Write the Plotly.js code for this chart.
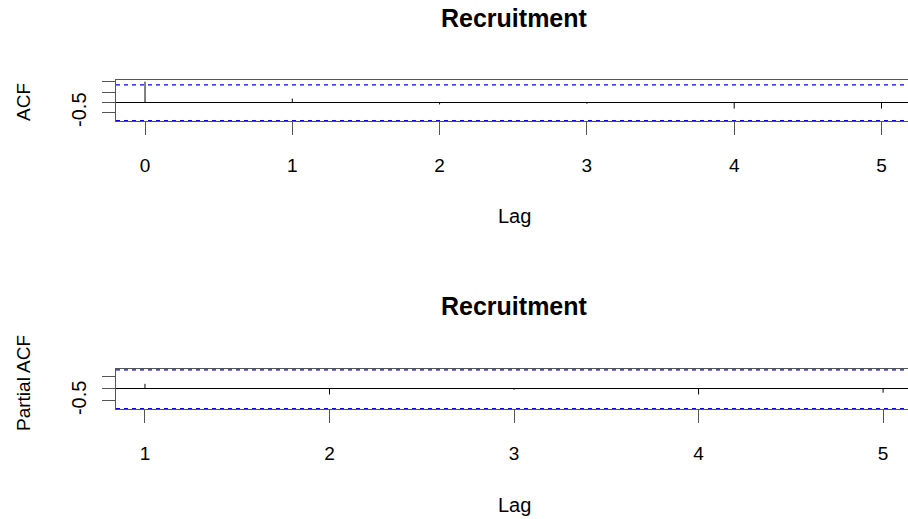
<!DOCTYPE html>
<html>
<head>
<meta charset="utf-8">
<script src="https://cdn.plot.ly/plotly-3.0.1.min.js"></script>
<style>html,body{margin:0;padding:0;background:#fff;}#plot{width:908px;height:519px;}</style>
</head>
<body>
<div id="plot"></div>
<script>
// ---- data ----
var acfLags = [0, 1, 2, 3, 4, 5];
var acfValues = [1.0, 0.18, -0.1, -0.07, -0.3, -0.3];
var acfConfUpper = 0.84;
var acfConfLower = -0.885;

var pacfLags = [1, 2, 3, 4, 5];
var pacfValues = [0.19, -0.24, -0.05, -0.24, -0.17];
var pacfConfUpper = 0.755;
var pacfConfLower = -0.815;

var acfTicks = [0, 1, 2, 3, 4, 5];
var pacfTicks = [1, 2, 3, 4, 5];
var yTickVals = [-0.5, 0, 0.5, 1];
var yTickText = ["-0.5", "", "", ""];

var titleText = "Recruitment";
var xTitle = "Lag";
var acfYTitle = "ACF";
var pacfYTitle = "Partial ACF";

function spikes(lags, vals) {
  var x = [], y = [];
  for (var i = 0; i < lags.length; i++) {
    x.push(lags[i], lags[i], null);
    y.push(0, vals[i], null);
  }
  return {x: x, y: y};
}

var s1 = spikes(acfLags, acfValues);
var s2 = spikes(pacfLags, pacfValues);

var FONT = "Liberation Sans, Arial, sans-serif";
var traces = [
  {x: s1.x, y: s1.y, xaxis: 'x', yaxis: 'y', mode: 'lines', type: 'scatter',
   line: {color: '#000', width: 1}, hoverinfo: 'skip', showlegend: false},
  {x: s2.x, y: s2.y, xaxis: 'x2', yaxis: 'y2', mode: 'lines', type: 'scatter',
   line: {color: '#000', width: 1}, hoverinfo: 'skip', showlegend: false}
];

var xCommon = {
  showgrid: false, zeroline: false, showline: true, mirror: true,
  linecolor: '#555', linewidth: 1, ticks: 'outside', ticklen: 13,
  tickcolor: '#555', tickwidth: 1, ticklabelstandoff: 14,
  tickfont: {family: FONT, size: 19, color: '#000'}, tickmode: 'array'
};
var yCommon = {
  showgrid: false, zeroline: true, zerolinecolor: '#000', zerolinewidth: 1,
  showline: true, mirror: false, linecolor: '#555', linewidth: 1,
  ticks: 'outside', ticklen: 13, tickcolor: '#555', tickwidth: 1,
  tickmode: 'array', tickvals: yTickVals, ticktext: yTickText, tickangle: -90,
  ticklabelstandoff: 8,
  tickfont: {family: FONT, size: 20, color: '#000'}
};

function dashLine(xref, yref, yv) {
  return {type: 'line', layer: 'above', xref: xref + ' domain', yref: yref, x0: 0, x1: 1, y0: yv, y1: yv,
          line: {color: '#0000FF', width: 1.3, dash: '4px,4px'}};
}

var layout = {
  width: 908, height: 519,
  margin: {l: 0, r: 0, t: 0, b: 0},
  paper_bgcolor: '#fff', plot_bgcolor: '#fff',
  showlegend: false,
  xaxis: Object.assign({}, xCommon, {domain: [116/908, 1], range: [-0.197, 5.18], anchor: 'y', tickvals: acfTicks}),
  yaxis: Object.assign({}, yCommon, {domain: [1 - 121/519, 1 - 80/519], range: [-0.9, 1.08], anchor: 'x'}),
  xaxis2: Object.assign({}, xCommon, {domain: [116/908, 1], range: [0.843, 5.135], anchor: 'y2', tickvals: pacfTicks}),
  yaxis2: Object.assign({}, yCommon, {domain: [1 - 409/519, 1 - 369/519], range: [-0.83, 0.79], anchor: 'x2'}),
  shapes: [
    dashLine('x', 'y', acfConfUpper), dashLine('x', 'y', acfConfLower),
    dashLine('x2', 'y2', pacfConfUpper), dashLine('x2', 'y2', pacfConfLower)
  ],
  annotations: [
    {text: '<b>' + titleText + '</b>', xref: 'paper', yref: 'paper', x: 514/908, y: 1 - 18/519,
     showarrow: false, xanchor: 'center', yanchor: 'middle', font: {family: FONT, size: 25, color: '#000'}},
    {text: '<b>' + titleText + '</b>', xref: 'paper', yref: 'paper', x: 514/908, y: 1 - 306/519,
     showarrow: false, xanchor: 'center', yanchor: 'middle', font: {family: FONT, size: 25, color: '#000'}},
    {text: xTitle, xref: 'paper', yref: 'paper', x: 514/908, y: 1 - 216/519,
     showarrow: false, xanchor: 'center', yanchor: 'middle', font: {family: FONT, size: 20, color: '#000'}},
    {text: xTitle, xref: 'paper', yref: 'paper', x: 514/908, y: 1 - 505/519,
     showarrow: false, xanchor: 'center', yanchor: 'middle', font: {family: FONT, size: 20, color: '#000'}},
    {text: acfYTitle, xref: 'paper', yref: 'paper', x: 23/908, y: 1 - 102/519, textangle: -90,
     showarrow: false, xanchor: 'center', yanchor: 'middle', font: {family: FONT, size: 19, color: '#000'}},
    {text: pacfYTitle, xref: 'paper', yref: 'paper', x: 23/908, y: 1 - 383/519, textangle: -90,
     showarrow: false, xanchor: 'center', yanchor: 'middle', font: {family: FONT, size: 19, color: '#000'}}
  ]
};

Plotly.newPlot('plot', traces, layout, {staticPlot: true, displayModeBar: false});
</script>
</body>
</html>
